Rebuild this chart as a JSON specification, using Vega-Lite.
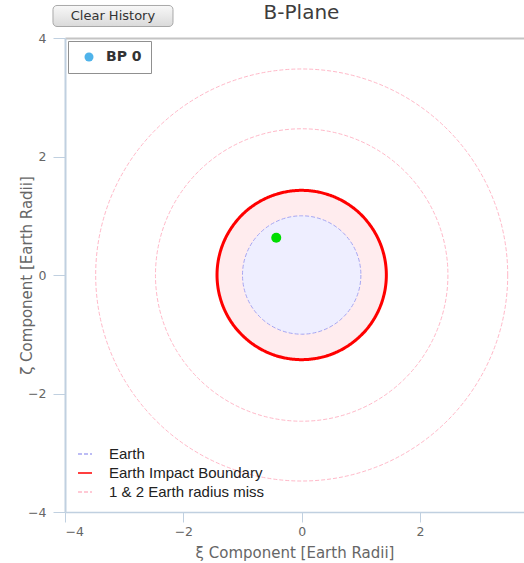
{
  "$schema": "https://vega.github.io/schema/vega-lite/v6.json",
  "autosize": "none",
  "width": 459,
  "height": 474,
  "padding": {"left": 65, "top": 38, "right": 0, "bottom": 51},
  "background": "white",
  "config": {"view": {"stroke": null}},
  "resolve": {"axis": {"x": "independent"}},
  "datasets": {
    "circles": [
      {"kind": "1 & 2 Earth radius miss", "r": 3.48, "x": 0, "y": 0},
      {"kind": "1 & 2 Earth radius miss", "r": 2.47, "x": 0, "y": 0},
      {"kind": "Earth Impact Boundary", "r": 1.43, "x": 0, "y": 0},
      {"kind": "Earth", "r": 1.0, "x": 0, "y": 0}
    ],
    "bp": [
      {"series": "BP 0", "x": -0.43, "y": 0.63}
    ],
    "button": [
      {"label": "Clear History"}
    ]
  },
  "layer": [
    {
      "data": {"name": "circles"},
      "mark": {"type": "point", "shape": "circle", "filled": true, "opacity": 1},
      "encoding": {
        "x": {"field": "x", "type": "quantitative", "scale": {"domain": [-4, 3.757], "nice": false, "zero": false},
          "axis": {"orient": "bottom", "values": [-4, -2, 0, 2], "format": "d", "grid": false, "title": "ξ Component [Earth Radii]", "domainColor": "#c0d0e0", "domainWidth": 1.5, "tickColor": "#c0d0e0", "tickSize": 10, "labelColor": "#666666", "labelFont": "DejaVu Sans", "labelFontSize": 12.5, "labelPadding": 3, "titleFont": "DejaVu Sans", "titleFontSize": 15, "titleFontWeight": "normal", "titleColor": "#666666", "titlePadding": 8}},
        "y": {"field": "y", "type": "quantitative", "scale": {"domain": [-4, 4], "nice": false, "zero": false},
          "axis": {"values": [-4, -2, 0, 2, 4], "format": "d", "grid": false, "title": "ζ Component [Earth Radii]", "domainColor": "#c0d0e0", "domainWidth": 2, "tickColor": "#c0d0e0", "tickSize": 12, "labelColor": "#666666", "labelFont": "DejaVu Sans", "labelFontSize": 12.5, "labelPadding": 7, "titleFont": "DejaVu Sans", "titleFontSize": 15, "titleFontWeight": "normal", "titleColor": "#666666", "titlePadding": -7}},
        "size": {"field": "r", "type": "quantitative", "scale": {"type": "pow", "exponent": 2, "domain": [0, 1], "range": [0, 14019]}, "legend": null},
        "stroke": {"field": "kind", "type": "nominal",
          "scale": {"domain": ["Earth", "Earth Impact Boundary", "1 & 2 Earth radius miss"], "range": ["#a6a6f2", "#ff0000", "#ffb8c8"]},
          "legend": {"title": null, "orient": "bottom-left", "offset": 8, "padding": 4, "symbolType": "stroke", "symbolSize": 196, "symbolOffset": 0, "labelFont": "Liberation Sans", "labelFontSize": 15, "labelColor": "#222222", "labelOffset": 16, "rowPadding": 3,
            "encode": {"symbols": {"update": {"size": {"value": 529}, "strokeWidth": {"signal": "datum.value === 'Earth Impact Boundary' ? 2.5 : 1.5"}}}}}},
        "strokeDash": {"field": "kind", "type": "nominal",
          "scale": {"domain": ["Earth", "Earth Impact Boundary", "1 & 2 Earth radius miss"], "range": [[4, 2], [1, 0], [4, 2]]},
          "legend": {"title": null, "orient": "bottom-left", "offset": 8, "padding": 4, "symbolType": "stroke", "symbolSize": 196, "symbolOffset": 0, "labelFont": "Liberation Sans", "labelFontSize": 15, "labelColor": "#222222", "labelOffset": 16, "rowPadding": 3}},
        "fill": {"condition": [{"test": "datum.kind === 'Earth'", "value": "#eeeeff"}, {"test": "datum.kind === 'Earth Impact Boundary'", "value": "#ffecee"}], "value": "transparent"},
        "strokeWidth": {"condition": {"test": "datum.kind === 'Earth Impact Boundary'", "value": 3}, "value": 1}
      }
    },
    {
      "data": {"name": "bp"},
      "mark": {"type": "point", "shape": "circle", "filled": true, "opacity": 1, "size": 100},
      "encoding": {
        "x": {"field": "x", "type": "quantitative", "axis": null},
        "y": {"field": "y", "type": "quantitative"},
        "color": {"condition": {"test": "datum.x < 100", "value": "#00dd00"}, "field": "series", "type": "nominal", "scale": {"range": ["#4fb3ea"]},
          "legend": {"title": null, "orient": "top-left", "offset": 3, "padding": 9, "strokeColor": "#909090", "fillColor": "white", "symbolType": "circle", "symbolSize": 81, "symbolOffset": 5, "labelFont": "DejaVu Sans", "labelFontSize": 14, "labelFontWeight": "bold", "labelColor": "#333333", "labelOffset": 10, "symbolStrokeWidth": 0,
            "encode": {"legend": {"update": {"strokeWidth": {"value": 2}}}}}}
      }
    },
    {
      "data": {"name": "button"},
      "mark": {"type": "rect", "cornerRadius": 4, "stroke": "#a8a8a8", "strokeWidth": 1,
        "fill": {"gradient": "linear", "x1": 0, "y1": 0, "x2": 0, "y2": 1, "stops": [{"offset": 0, "color": "#f8f8f8"}, {"offset": 1, "color": "#dadada"}]}},
      "encoding": {
        "x": {"datum": -4.203, "axis": {"orient": "top", "labels": false, "ticks": false, "grid": false, "domainColor": "#c4c4c4", "domainWidth": 2, "title": "B-Plane", "titleFont": "DejaVu Sans", "titleFontSize": 20, "titleFontWeight": "normal", "titleColor": "#3d3d3d", "titlePadding": 16, "titleX": 236}},
        "x2": {"datum": -2.175},
        "y": {"datum": 4.549},
        "y2": {"datum": 4.194}
      }
    },
    {
      "data": {"name": "button"},
      "mark": {"type": "text", "font": "DejaVu Sans", "fontSize": 13, "color": "#333333", "align": "center", "baseline": "middle"},
      "encoding": {
        "x": {"datum": -3.19, "axis": null},
        "y": {"datum": 4.37},
        "text": {"field": "label"}
      }
    }
  ]
}
